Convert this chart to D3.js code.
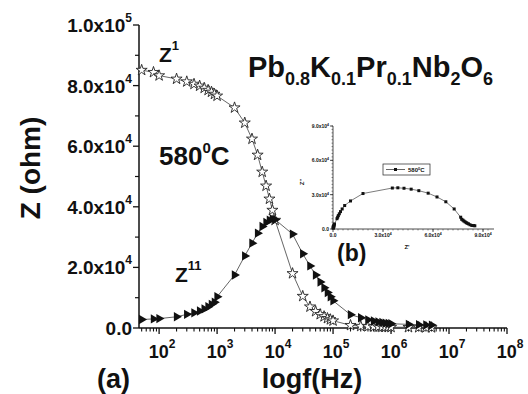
<!DOCTYPE html>
<html>
<head>
<meta charset="utf-8">
<script src="https://cdn.jsdelivr.net/npm/d3@7"></script>
<style>
  body { margin: 0; background: #fff; }
  svg text { font-family: Arial, "Liberation Sans", sans-serif; font-weight: bold; fill: #111; }
</style>
</head>
<body>
<svg id="chart" width="528" height="394"></svg>
<script>
// Measurement frequencies (Hz)
const freq = [50, 80, 100, 200, 300, 400, 500, 600, 700, 800, 900,
  1e3, 2e3, 3e3, 4e3, 5e3, 6e3, 7e3, 8e3, 9e3,
  1e4, 2e4, 3e4, 4e4, 5e4, 6e4, 7e4, 8e4, 9e4,
  1e5, 2e5, 3e5, 4e5, 5e5, 6e5, 7e5, 8e5, 9e5,
  1e6, 2e6, 3e6, 4e6, 5e6];
// Real part Z' (ohm)
const zReal = [85100, 84400, 83300, 82200, 81300, 80500, 79900, 79200, 78500, 77900, 77200,
  76600, 72700, 67700, 62400, 57100, 51500, 46900, 42600, 38900,
  35600, 18000, 10500, 7000, 5500, 4500, 3800, 3200, 2800,
  2400, 900, 600, 500, 420, 380, 340, 310, 290,
  270, 220, 190, 170, 150];
// Imaginary part Z'' (ohm)
const zImag = [2800, 3000, 3100, 3700, 4500, 5000, 5600, 6300, 7000, 7800, 8500,
  10300, 17500, 23800, 28000, 31300, 33500, 34800, 35600, 36000,
  35800, 31000, 24500, 20500, 17500, 15200, 13300, 11700, 10300,
  9000, 4400, 3400, 2700, 2300, 2000, 1800, 1600, 1500,
  1400, 1200, 1100, 1000, 950];

// Main axis ticks and labels
const yTicks = [0, 2e4, 4e4, 6e4, 8e4, 1e5];
const yTickMant = ["0.0", "2.0x10", "4.0x10", "6.0x10", "8.0x10", "1.0x10"];
const yTickExp = ["", "4", "4", "4", "4", "5"];
const xTicks = [1e2, 1e3, 1e4, 1e5, 1e6, 1e7, 1e8];
const xTickExp = ["2", "3", "4", "5", "6", "7", "8"];

// Inset (Nyquist) ticks
const insetTicks = [0, 3e4, 6e4, 9e4];
const insetMant = ["0.0", "3.0x10", "6.0x10", "9.0x10"];
const insetExp = ["", "4", "4", "4"];

const svg = d3.select("#chart");

const x = d3.scaleLog().domain([45, 1e8]).range([139, 507]);
const y = d3.scaleLinear().domain([0, 1e5]).range([328, 25]);

// ---------- main axes ----------
const axes = svg.append("g").attr("stroke", "#111").attr("fill", "none");
axes.append("line").attr("x1", x.range()[0]).attr("x2", x.range()[1])
  .attr("y1", y(0)).attr("y2", y(0)).attr("stroke-width", 1.5);
axes.append("line").attr("x1", x.range()[0]).attr("x2", x.range()[0])
  .attr("y1", y(0)).attr("y2", y(1e5)).attr("stroke-width", 1.5);

// y ticks (major + minor)
const yMinor = d3.range(1e4, 1e5, 2e4);
axes.selectAll(".ymaj").data(yTicks).join("line")
  .attr("x1", x.range()[0] - 6).attr("x2", x.range()[0])
  .attr("y1", d => y(d)).attr("y2", d => y(d)).attr("stroke-width", 1.3);
axes.selectAll(".ymin").data(yMinor).join("line")
  .attr("x1", x.range()[0] - 4).attr("x2", x.range()[0])
  .attr("y1", d => y(d)).attr("y2", d => y(d)).attr("stroke-width", 1.2);

// x ticks (decades + log minor)
const xMinor = [];
for (let e = 1; e < 8; e++) for (let m = 2; m <= 9; m++) {
  const v = m * Math.pow(10, e);
  if (v >= x.domain()[0] && v < 1e8) xMinor.push(v);
}
axes.selectAll(".xmaj").data(xTicks).join("line")
  .attr("x1", d => x(d)).attr("x2", d => x(d))
  .attr("y1", y(0)).attr("y2", y(0) + 6).attr("stroke-width", 1.3);
axes.selectAll(".xmin").data(xMinor).join("line")
  .attr("x1", d => x(d)).attr("x2", d => x(d))
  .attr("y1", y(0)).attr("y2", y(0) + 3.5).attr("stroke-width", 1.1);

// y tick labels
const yl = svg.append("g").selectAll("text").data(yTicks).join("text")
  .attr("x", 132).attr("y", d => y(d) + 7)
  .attr("text-anchor", "end").attr("font-size", 19);
yl.append("tspan").text((d, i) => yTickMant[i]);
yl.append("tspan").attr("font-size", 12).attr("dy", -10).text((d, i) => yTickExp[i]);

// x tick labels
const xl = svg.append("g").selectAll("text").data(xTicks).join("text")
  .attr("x", d => x(d) + 3).attr("y", 358)
  .attr("text-anchor", "middle").attr("font-size", 18);
xl.append("tspan").text("10");
xl.append("tspan").attr("font-size", 12).attr("dy", -10).text((d, i) => xTickExp[i]);

// axis titles
svg.append("text").attr("x", 312).attr("y", 388).attr("text-anchor", "middle")
  .attr("font-size", 27).text("logf(Hz)");
svg.append("text").attr("x", 97).attr("y", 388).attr("font-size", 27).text("(a)");
svg.append("text").attr("transform", "translate(40,168) rotate(-90)")
  .attr("text-anchor", "middle").attr("font-size", 28).text("Z (ohm)");

// ---------- main data ----------
const pts = freq.map((f, i) => ({ f, re: zReal[i], im: zImag[i] }));
const lineRe = d3.line().x(d => x(d.f)).y(d => y(d.re));
const lineIm = d3.line().x(d => x(d.f)).y(d => y(d.im));

svg.append("path").datum(pts).attr("d", lineRe)
  .attr("fill", "none").attr("stroke", "#555").attr("stroke-width", 0.9);
svg.append("path").datum(pts).attr("d", lineIm)
  .attr("fill", "none").attr("stroke", "#555").attr("stroke-width", 0.9);

const star = d3.symbol().type(d3.symbolStar).size(38);
svg.append("g").selectAll("path").data(pts).join("path")
  .attr("d", star)
  .attr("transform", d => `translate(${x(d.f)},${y(d.re)})`)
  .attr("fill", "#fff").attr("stroke", "#222").attr("stroke-width", 0.9);

const tri = d3.symbol().type(d3.symbolTriangle).size(38);
svg.append("g").selectAll("path").data(pts).join("path")
  .attr("d", tri)
  .attr("transform", d => `translate(${x(d.f)},${y(d.im)}) rotate(90)`)
  .attr("fill", "#111");

// ---------- annotations ----------
const zr = svg.append("text").attr("x", 159).attr("y", 62).attr("font-size", 21);
zr.append("tspan").text("Z");
zr.append("tspan").attr("font-size", 13).attr("dy", -12).text("1");

const zi = svg.append("text").attr("x", 175).attr("y", 282).attr("font-size", 21);
zi.append("tspan").text("Z");
zi.append("tspan").attr("font-size", 13).attr("dy", -12).text("11");

const tc = svg.append("text").attr("x", 159).attr("y", 165).attr("font-size", 26);
tc.append("tspan").text("580");
tc.append("tspan").attr("font-size", 15).attr("dy", -12).text("0");
tc.append("tspan").attr("dy", 12).text("C");

// composition title with subscripts
const title = [["Pb", false], ["0.8", true], ["K", false], ["0.1", true], ["Pr", false],
  ["0.1", true], ["Nb", false], ["2", true], ["O", false], ["6", true]];
const tt = svg.append("text").attr("x", 248).attr("y", 77).attr("font-size", 29);
let prevSub = false;
title.forEach(([s, sub]) => {
  const dy = sub === prevSub ? 0 : (sub ? 8 : -8);
  tt.append("tspan").attr("font-size", sub ? 18 : 29).attr("dy", dy).text(s);
  prevSub = sub;
});

// ---------- inset: Z'' vs Z' ----------
const ix = d3.scaleLinear().domain([0, 96600]).range([333, 494]);
const iy = d3.scaleLinear().domain([0, 9e4]).range([229, 126]);
const ins = svg.append("g");
const ia = ins.append("g").attr("stroke", "#222").attr("fill", "none").attr("stroke-width", 0.8);
ia.append("line").attr("x1", ix(0)).attr("x2", ix.range()[1]).attr("y1", iy(0)).attr("y2", iy(0));
ia.append("line").attr("x1", ix(0)).attr("x2", ix(0)).attr("y1", iy(0)).attr("y2", iy.range()[1]);
const iMinor = d3.range(3e3, 96000, 3e3);
ia.selectAll(".ixm").data(iMinor).join("line")
  .attr("x1", d => ix(d)).attr("x2", d => ix(d)).attr("y1", iy(0)).attr("y2", iy(0) + 1.5).attr("stroke-width", 0.5);
ia.selectAll(".ixM").data(insetTicks).join("line")
  .attr("x1", d => ix(d)).attr("x2", d => ix(d)).attr("y1", iy(0)).attr("y2", iy(0) + 3);
ia.selectAll(".iym").data(iMinor.filter(d => d <= 9e4)).join("line")
  .attr("x1", ix(0) - 1.5).attr("x2", ix(0)).attr("y1", d => iy(d)).attr("y2", d => iy(d)).attr("stroke-width", 0.5);
ia.selectAll(".iyM").data(insetTicks).join("line")
  .attr("x1", ix(0) - 3).attr("x2", ix(0)).attr("y1", d => iy(d)).attr("y2", d => iy(d));

const ixl = ins.append("g").selectAll("text").data(insetTicks).join("text")
  .attr("x", d => ix(d)).attr("y", iy(0) + 8).attr("text-anchor", "middle").attr("font-size", 5);
ixl.append("tspan").text((d, i) => insetMant[i]);
ixl.append("tspan").attr("font-size", 3.5).attr("dy", -2).text((d, i) => insetExp[i]);
const iyl = ins.append("g").selectAll("text").data(insetTicks).join("text")
  .attr("x", ix(0) - 4).attr("y", d => iy(d) + 2).attr("text-anchor", "end").attr("font-size", 5);
iyl.append("tspan").text((d, i) => insetMant[i]);
iyl.append("tspan").attr("font-size", 3.5).attr("dy", -2).text((d, i) => insetExp[i]);

ins.append("text").attr("x", 407).attr("y", 249).attr("font-size", 6).attr("text-anchor", "middle").text("Z'");
ins.append("text").attr("transform", "translate(304,182) rotate(-90)")
  .attr("font-size", 6).attr("text-anchor", "middle").text("Z''");

ins.append("path").datum(pts)
  .attr("d", d3.line().x(d => ix(d.re)).y(d => iy(d.im)))
  .attr("fill", "none").attr("stroke", "#444").attr("stroke-width", 0.7);
ins.append("g").selectAll("rect").data(pts).join("rect")
  .attr("x", d => ix(d.re) - 1.5).attr("y", d => iy(d.im) - 1.5)
  .attr("width", 3).attr("height", 3).attr("fill", "#111");

// inset legend
const lg = ins.append("g");
lg.append("rect").attr("x", 383).attr("y", 164).attr("width", 47).attr("height", 11)
  .attr("fill", "#fff").attr("stroke", "#222").attr("stroke-width", 0.7);
lg.append("line").attr("x1", 386).attr("x2", 405).attr("y1", 169.5).attr("y2", 169.5)
  .attr("stroke", "#222").attr("stroke-width", 0.7);
lg.append("rect").attr("x", 394).attr("y", 168).attr("width", 3).attr("height", 3).attr("fill", "#111");
const lt = lg.append("text").attr("x", 408).attr("y", 172).attr("font-size", 6);
lt.append("tspan").text("580");
lt.append("tspan").attr("font-size", 4).attr("dy", -2).text("0");
lt.append("tspan").attr("dy", 2).text("C");

svg.append("text").attr("x", 337).attr("y", 261).attr("font-size", 23).text("(b)");
</script>
</body>
</html>
